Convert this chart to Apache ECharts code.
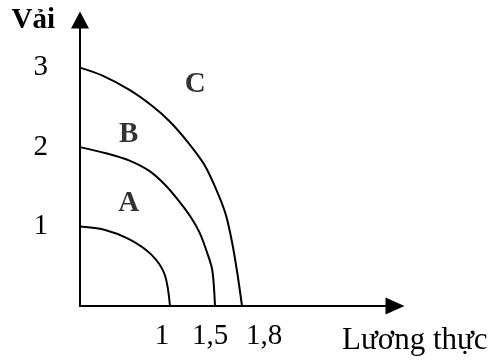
<!DOCTYPE html>
<html>
<head>
<meta charset="utf-8">
<script src="https://cdn.jsdelivr.net/npm/echarts@6/dist/echarts.min.js"></script>
<style>
  html, body { margin: 0; padding: 0; background: #fff; }
  #main { width: 499px; height: 364px; }
</style>
</head>
<body>
<div id="main"></div>
<script>
// đường giới hạn khả năng sản xuất (lương thực, vải)
var curveA = [[0, 1], [0.27, 0.96], [0.55, 0.84], [0.79, 0.65], [0.94, 0.40], [1, 0]];
var curveB = [[0, 2], [0.3, 1.92], [0.55, 1.83], [0.77, 1.70], [0.95, 1.52], [1.1, 1.32], [1.23, 1.12], [1.33, 0.92], [1.41, 0.68], [1.47, 0.45], [1.5, 0]];
var curveC = [[0, 3], [0.25, 2.90], [0.55, 2.72], [0.8, 2.52], [1.0, 2.32], [1.2, 2.06], [1.38, 1.78], [1.52, 1.45], [1.62, 1.15], [1.69, 0.80], [1.75, 0.40], [1.8, 0]];
var xTicks = [1, 1.5, 1.8];
var yTicks = [1, 2, 3];
var curveNames = ['A', 'B', 'C'];
var namePoints = [[0.54, 1.29], [0.54, 2.16], [1.28, 2.79]];

var font = 'Liberation Serif';
var myChart = echarts.init(document.getElementById('main'));

function curve(name, data) {
  return {
    type: 'line',
    name: name,
    data: data,
    smooth: 0.3,
    symbol: 'none',
    silent: true,
    lineStyle: { color: '#000', width: 2 }
  };
}

// nhãn trục x hơi lệch như trong hình gốc
function xLabel(v) {
  var s = String(v).replace('.', ',');
  if (v === 1) return '{l|' + s + '}';
  if (v === 1.5) return '{m|' + s + '}';
  return '{r|' + s + '}';
}

var option = {
  animation: false,
  backgroundColor: '#fff',
  grid: { left: 80, right: 104, top: 20, bottom: 58 },
  xAxis: {
    type: 'value',
    min: 0,
    max: 3.5,
    name: 'Lương thực',
    nameLocation: 'end',
    nameGap: -53,
    nameTextStyle: {
      fontFamily: font, fontSize: 31, color: '#000',
      align: 'left', verticalAlign: 'top', padding: [19, 0, 0, 0]
    },
    axisLine: {
      lineStyle: { color: '#000', width: 2 },
      symbol: ['none', 'triangle'],
      symbolSize: [17, 19]
    },
    axisTick: { show: false },
    splitLine: { show: false },
    axisLabel: {
      customValues: xTicks,
      hideOverlap: false,
      margin: 16,
      fontFamily: font, fontSize: 29, color: '#000',
      formatter: xLabel,
      rich: {
        l: { fontFamily: font, fontSize: 29, color: '#000', padding: [0, 16, 0, 0] },
        m: { fontFamily: font, fontSize: 29, color: '#000', padding: [0, 10, 0, 0] },
        r: { fontFamily: font, fontSize: 29, color: '#000', padding: [0, 0, 0, 44] }
      }
    }
  },
  yAxis: {
    type: 'value',
    min: 0,
    max: 3.6,
    name: 'Vải',
    nameLocation: 'end',
    nameGap: -1,
    nameTextStyle: {
      fontFamily: font, fontSize: 29, fontWeight: 'bold', color: '#000',
      align: 'right', verticalAlign: 'middle', padding: [0, 25, 0, 0]
    },
    axisLine: {
      lineStyle: { color: '#000', width: 2 },
      symbol: ['none', 'triangle'],
      symbolSize: [18, 17]
    },
    axisTick: { show: false },
    splitLine: { show: false },
    axisLabel: {
      customValues: yTicks,
      margin: 32,
      fontFamily: font, fontSize: 29, color: '#000'
    }
  },
  series: [
    curve('A', curveA),
    curve('B', curveB),
    curve('C', curveC),
    {
      type: 'scatter',
      symbolSize: 1,
      itemStyle: { color: 'transparent' },
      silent: true,
      data: namePoints.map(function (p, i) { return { name: curveNames[i], value: p }; }),
      label: {
        show: true,
        position: 'inside',
        formatter: '{b}',
        fontFamily: font, fontSize: 29, fontWeight: 'bold', color: '#000'
      }
    }
  ]
};

myChart.setOption(option);
</script>
</body>
</html>
